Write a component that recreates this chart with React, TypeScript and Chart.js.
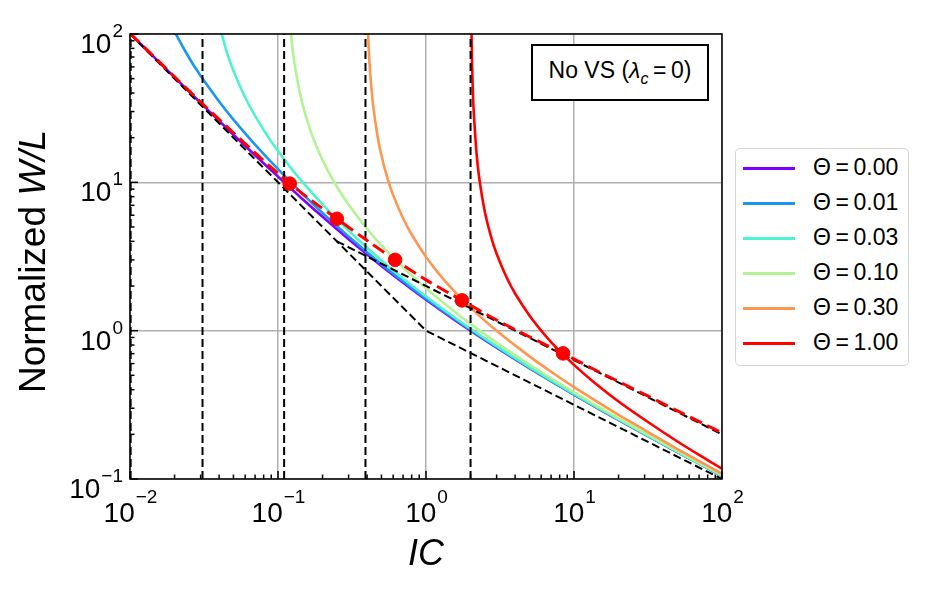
import { useEffect, useRef } from 'react';
import Chart from 'chart.js/auto';

const FONT = '"Liberation Sans", Arial, sans-serif';

const thetaLabels = ['0.00', '0.01', '0.03', '0.10', '0.30', '1.00'];
const thetaColors = ['#8000ff', '#1996f3', '#4df3ce', '#b3f396', '#ff964f', '#ff0000'];

// W/L vs IC for each Theta
const icTheta000 = [0.01, 0.015, 0.02, 0.03, 0.05, 0.07, 0.1, 0.15, 0.2, 0.3, 0.5, 0.7, 1, 1.5, 2, 3, 5, 7, 10, 15, 20, 30, 50, 70, 100];
const wlTheta000 = [101.0, 67.65, 50.98, 34.31, 20.95, 15.22, 10.92, 7.55, 5.854, 4.139, 2.732, 2.107, 1.618, 1.215, 1.0, 0.7676, 0.5583, 0.4561, 0.3702, 0.2937, 0.25, 0.2008, 0.1518, 0.1269, 0.1051];

const icTheta001 = [0.012, 0.014, 0.016, 0.018, 0.02, 0.025, 0.03, 0.04, 0.05, 0.07, 0.1, 0.15, 0.2, 0.3, 0.5, 0.7, 1, 2, 3, 5, 10, 20, 50, 100];
const wlTheta001 = [537, 262.5, 173.8, 130.1, 104.0, 69.43, 52.22, 35.07, 26.5, 17.95, 12.26, 8.167, 6.218, 4.318, 2.809, 2.152, 1.645, 1.01, 0.7735, 0.5614, 0.3716, 0.2506, 0.152, 0.1052];

const icTheta003 = [0.033, 0.035, 0.038, 0.04, 0.045, 0.05, 0.06, 0.07, 0.085, 0.1, 0.12, 0.15, 0.2, 0.25, 0.3, 0.4, 0.5, 0.7, 1, 1.5, 2, 3, 5, 10, 20, 50, 100];
const wlTheta003 = [505.8, 259.5, 150.2, 117.4, 76.11, 56.41, 37.35, 28.02, 20.5, 16.24, 12.78, 9.761, 7.101, 5.646, 4.726, 3.621, 2.976, 2.249, 1.7, 1.261, 1.031, 0.7857, 0.5678, 0.3744, 0.2519, 0.1525, 0.1054];

const icTheta010 = [0.113, 0.115, 0.118, 0.12, 0.125, 0.13, 0.14, 0.15, 0.17, 0.2, 0.25, 0.3, 0.4, 0.5, 0.7, 1, 1.5, 2, 3, 5, 10, 20, 50, 100];
const wlTheta010 = [400.9, 240.8, 150.8, 120.8, 80.83, 60.82, 40.82, 30.81, 20.8, 14.12, 9.336, 7.062, 4.85, 3.759, 2.669, 1.93, 1.383, 1.111, 0.8314, 0.5913, 0.3844, 0.2564, 0.1541, 0.1062];

const icTheta030 = [0.395, 0.4, 0.41, 0.42, 0.44, 0.47, 0.5, 0.55, 0.6, 0.7, 0.8, 1, 1.2, 1.5, 2, 3, 5, 7, 10, 20, 30, 50, 100];
const wlTheta030 = [320.6, 160.6, 80.61, 53.95, 32.61, 20.61, 15.15, 10.59, 8.2, 5.726, 4.451, 3.144, 2.474, 1.912, 1.429, 0.9973, 0.6706, 0.5284, 0.4164, 0.2703, 0.2136, 0.159, 0.1085];

const icTheta100 = [2.01, 2.02, 2.04, 2.07, 2.1, 2.2, 2.3, 2.5, 2.75, 3, 3.5, 4, 5, 6, 7, 8.43, 10, 13, 20, 30, 50, 70, 100];
const wlTheta100 = [300.2, 150.3, 75.34, 43.19, 30.33, 15.33, 10.32, 6.317, 4.309, 3.303, 2.291, 1.781, 1.264, 1.0, 0.8385, 0.692, 0.5878, 0.4673, 0.3333, 0.251, 0.179, 0.1453, 0.1174];

const icSeries = [icTheta000, icTheta001, icTheta003, icTheta010, icTheta030, icTheta100];
const wlSeries = [wlTheta000, wlTheta001, wlTheta003, wlTheta010, wlTheta030, wlTheta100];

// red dashed locus and its markers
const icOptimum = [0.01, 0.02, 0.03, 0.05, 0.07, 0.1, 0.12, 0.17, 0.25, 0.4, 0.618, 1, 1.75, 3, 5, 8.43, 15, 30, 50, 100];
const wlOptimum = [101, 51.5, 34.8, 21.6, 15.8, 11.5, 9.8, 7.5, 5.68, 4.05, 3.0, 2.2, 1.6, 1.18, 0.91, 0.703, 0.523, 0.372, 0.288, 0.205];
const icMarkers = [0.12, 0.25, 0.618, 1.75, 8.43];
const wlMarkers = [9.8, 5.68, 3.0, 1.6, 0.703];

// black dashed guides
const icAsymptote = [0.01, 1, 100];
const wlAsymptote = [100, 1, 0.1];
const icSqrtGuide = [0.25, 100];
const wlSqrtGuide = [4, 0.2];
const icLimits = [0.0101, 0.0309, 0.11, 0.39, 2.0];

const xDecades = [-2, -1, 0, 1, 2];
const yDecades = [-1, 0, 1, 2];

const pts = (xs: number[], ys: number[]) => xs.map((x, i) => ({ x, y: ys[i] }));

const drawPow = (ctx: CanvasRenderingContext2D, exp: number, x: number, y: number, vertical: boolean) => {
  const sup = exp < 0 ? '\u2212' + Math.abs(exp) : String(exp);
  ctx.font = `28px ${FONT}`;
  const wb = ctx.measureText('10').width;
  ctx.font = `19px ${FONT}`;
  const ws = ctx.measureText(sup).width;
  let left: number, baseY: number, supY: number;
  if (vertical) {
    left = x - wb - ws;
    baseY = y + 19;
    supY = y + 3;
  } else {
    left = x - (wb + ws) / 2;
    baseY = 522;
    supY = 503;
  }
  ctx.textAlign = 'left';
  ctx.textBaseline = 'alphabetic';
  ctx.font = `28px ${FONT}`;
  ctx.fillText('10', left, baseY);
  ctx.font = `19px ${FONT}`;
  ctx.fillText(sup, left + wb + 1, supY);
};

const axesPlugin = {
  id: 'mplAxes',
  afterDraw(chart: any) {
    const { ctx, chartArea: a, scales } = chart;
    const xs = scales.x;
    const ys = scales.y;
    ctx.save();
    ctx.strokeStyle = '#000';
    ctx.fillStyle = '#000';
    ctx.lineWidth = 1.5;
    // inward ticks
    for (let e = -2; e <= 2; e++) {
      for (let m = 1; m <= 9; m++) {
        if (e === 2 && m > 1) break;
        const v = m * Math.pow(10, e);
        const len = m === 1 ? 8 : 4.5;
        const px = xs.getPixelForValue(v);
        ctx.beginPath();
        ctx.moveTo(px, a.bottom);
        ctx.lineTo(px, a.bottom - len);
        ctx.stroke();
        if (e >= -1) {
          const py = ys.getPixelForValue(v);
          ctx.beginPath();
          ctx.moveTo(a.left, py);
          ctx.lineTo(a.left + len, py);
          ctx.stroke();
        }
      }
    }
    ctx.strokeRect(a.left, a.top, a.right - a.left, a.bottom - a.top);
    // tick labels
    xDecades.forEach(e => drawPow(ctx, e, xs.getPixelForValue(Math.pow(10, e)), 0, false));
    yDecades.forEach(e => drawPow(ctx, e, 122, ys.getPixelForValue(Math.pow(10, e)), true));
    // axis titles
    ctx.font = `italic 36px ${FONT}`;
    ctx.textAlign = 'center';
    ctx.fillText('IC', (a.left + a.right) / 2, 565);
    ctx.translate(45, (a.top + a.bottom) / 2 + 5);
    ctx.rotate(-Math.PI / 2);
    ctx.font = `37px ${FONT}`;
    const w1 = ctx.measureText('Normalized ').width;
    ctx.font = `italic 37px ${FONT}`;
    const w2 = ctx.measureText('W/L').width;
    ctx.textAlign = 'left';
    ctx.font = `37px ${FONT}`;
    ctx.fillText('Normalized ', -(w1 + w2) / 2, 0);
    ctx.font = `italic 37px ${FONT}`;
    ctx.fillText('W/L', -(w1 + w2) / 2 + w1, 0);
    ctx.restore();
  },
};

const App = () => {
  const chartRef = useRef<HTMLCanvasElement>(null);
  const chartInstance = useRef<Chart | null>(null);

  useEffect(() => {
    if (!chartRef.current) return;
    const ctx = chartRef.current.getContext('2d');
    if (!ctx) return;
    if (chartInstance.current) chartInstance.current.destroy();

    const curves = icSeries.map((ic, i) => ({
      label: `\u0398 = ${thetaLabels[i]}`,
      data: pts(ic, wlSeries[i]),
      borderColor: thetaColors[i],
      borderWidth: 2.6,
      pointRadius: 0,
      tension: 0.3,
      order: 10 - i,
    }));

    const limits = icLimits.map(v => ({
      label: 'limit',
      data: [{ x: v, y: 0.1 }, { x: v, y: 100 }],
      borderColor: '#000',
      borderWidth: 2,
      borderDash: [8, 4],
      pointRadius: 0,
      order: 3,
    }));

    chartInstance.current = new Chart(ctx, {
      type: 'line',
      data: {
        datasets: [
          ...curves,
          ...limits,
          {
            label: 'asymptote',
            data: pts(icAsymptote, wlAsymptote),
            borderColor: '#000',
            borderWidth: 2,
            borderDash: [8, 4],
            pointRadius: 0,
            order: 3,
          },
          {
            label: 'sqrt',
            data: pts(icSqrtGuide, wlSqrtGuide),
            borderColor: '#000',
            borderWidth: 2,
            borderDash: [8, 4],
            pointRadius: 0,
            order: 3,
          },
          {
            label: 'optimum',
            data: pts(icOptimum, wlOptimum),
            borderColor: '#ff0000',
            borderWidth: 3,
            borderDash: [13, 6],
            pointRadius: 0,
            tension: 0.3,
            order: 2,
          },
          {
            label: 'markers',
            data: pts(icMarkers, wlMarkers),
            showLine: false,
            pointRadius: 6.8,
            pointBackgroundColor: '#ff0000',
            pointBorderColor: '#ff0000',
            order: 1,
          },
        ],
      },
      options: {
        animation: false,
        responsive: true,
        maintainAspectRatio: false,
        layout: { padding: { left: 0, top: 34, right: 207, bottom: 0 } },
        plugins: { legend: { display: false }, tooltip: { enabled: false } },
        scales: {
          x: {
            type: 'logarithmic',
            min: 0.01,
            max: 100,
            afterBuildTicks: (s: any) => { s.ticks = xDecades.map(e => ({ value: Math.pow(10, e) })); },
            afterFit: (s: any) => { s.height = 113; },
            ticks: { display: false },
            grid: { color: '#b0b0b0', lineWidth: 1.5, drawTicks: false },
            border: { display: false },
          },
          y: {
            type: 'logarithmic',
            min: 0.1,
            max: 100,
            afterBuildTicks: (s: any) => { s.ticks = yDecades.map(e => ({ value: Math.pow(10, e) })); },
            afterFit: (s: any) => { s.width = 130; },
            ticks: { display: false },
            grid: { color: '#b0b0b0', lineWidth: 1.5, drawTicks: false },
            border: { display: false },
          },
        },
      },
      plugins: [axesPlugin],
    });

    return () => {
      if (chartInstance.current) {
        chartInstance.current.destroy();
        chartInstance.current = null;
      }
    };
  }, []);

  return (
    <div style={{ position: 'fixed', left: 0, top: 0, width: 929, height: 592, background: '#fff', fontFamily: FONT }}>
      <canvas ref={chartRef} />
      <div
        style={{
          position: 'absolute', left: 531, top: 44, width: 174, height: 53,
          border: '2px solid #000', background: '#fff', display: 'flex',
          alignItems: 'center', justifyContent: 'center', fontSize: 23, color: '#000',
        }}
      >
        <span style={{ whiteSpace: 'nowrap' }}>
          No VS (<i>λ</i><sub style={{ fontSize: 16, fontStyle: 'italic' }}>c</sub>{'\u2009=\u20090)'}
        </span>
      </div>
      <div
        style={{
          position: 'absolute', left: 735, top: 148, width: 172, height: 216,
          border: '1.5px solid #d5d5d5', borderRadius: 5, background: '#fff',
        }}
      >
        {thetaLabels.map((t, i) => (
          <div key={t} style={{ position: 'absolute', left: 0, top: 19 + i * 35, width: '100%', height: 0 }}>
            <div style={{ position: 'absolute', left: 7, top: -1.5, width: 52, height: 3, background: thetaColors[i] }} />
            <div style={{ position: 'absolute', left: 77, top: -14, fontSize: 23, lineHeight: '27px', color: '#000', whiteSpace: 'nowrap' }}>
              {'\u0398\u2009=\u2009' + t}
            </div>
          </div>
        ))}
      </div>
    </div>
  );
};

export default App;
